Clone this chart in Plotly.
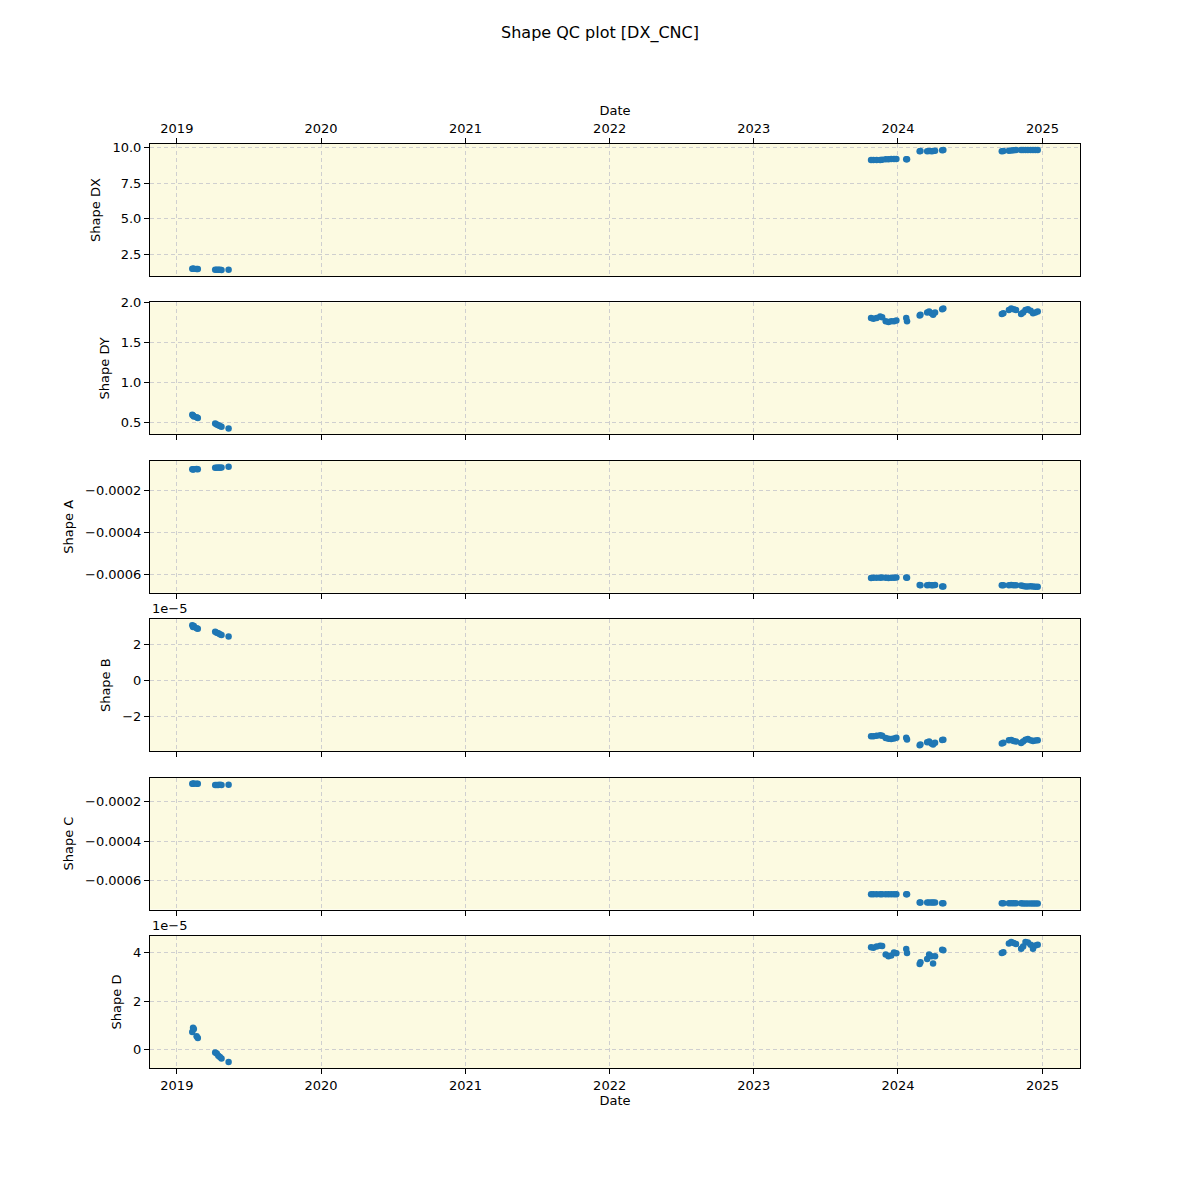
import pandas as pd
import plotly.graph_objects as go

dates = [
    "2019-02-09", "2019-02-11", "2019-02-13", "2019-02-20", "2019-02-23",
    "2019-04-08", "2019-04-12", "2019-04-16", "2019-04-20", "2019-04-24", "2019-05-12",
    "2023-10-25", "2023-10-31", "2023-11-08", "2023-11-17", "2023-11-22",
    "2023-12-01", "2023-12-08", "2023-12-15", "2023-12-22", "2023-12-28",
    "2024-01-22", "2024-01-24", "2024-02-25", "2024-02-27",
    "2024-03-15", "2024-03-20", "2024-03-26", "2024-03-30", "2024-04-04",
    "2024-04-22", "2024-04-25", "2024-09-20", "2024-09-24",
    "2024-10-08", "2024-10-14", "2024-10-20", "2024-10-26",
    "2024-11-08", "2024-11-13", "2024-11-19", "2024-11-25",
    "2024-12-02", "2024-12-08", "2024-12-14", "2024-12-20",
]

shape_dx = [
    1.47, 1.46, 1.46, 1.45, 1.45, 1.40, 1.39, 1.39, 1.40, 1.38, 1.40,
    9.12, 9.12, 9.12, 9.13, 9.14, 9.17, 9.18, 9.19, 9.19, 9.19,
    9.17, 9.17, 9.75, 9.76, 9.75, 9.76, 9.75, 9.76, 9.77,
    9.82, 9.83, 9.75, 9.76, 9.78, 9.80, 9.82, 9.83,
    9.83, 9.83, 9.83, 9.83, 9.83, 9.83, 9.83, 9.83,
]

shape_dy = [
    0.60, 0.59, 0.58, 0.57, 0.56, 0.49, 0.48, 0.47, 0.46, 0.45, 0.43,
    1.81, 1.80, 1.81, 1.83, 1.82, 1.77, 1.76, 1.77, 1.77, 1.78,
    1.81, 1.77, 1.84, 1.85, 1.88, 1.89, 1.87, 1.85, 1.88,
    1.92, 1.93, 1.86, 1.87, 1.91, 1.93, 1.92, 1.91,
    1.86, 1.88, 1.91, 1.92, 1.90, 1.87, 1.88, 1.89,
]

shape_a = [
    -0.000097, -0.000098, -0.000097, -0.000096, -0.000097,
    -0.000090, -0.000089, -0.000088, -0.000089, -0.000088, -0.000085,
    -0.000616, -0.000615, -0.000615, -0.000615, -0.000614,
    -0.000615, -0.000616, -0.000615, -0.000615, -0.000614,
    -0.000614, -0.000615, -0.000650, -0.000651,
    -0.000651, -0.000650, -0.000651, -0.000651, -0.000650,
    -0.000656, -0.000657, -0.000651, -0.000651,
    -0.000651, -0.000650, -0.000651, -0.000651,
    -0.000652, -0.000654, -0.000656, -0.000657,
    -0.000655, -0.000657, -0.000658, -0.000658,
]

shape_b = [
    3.05e-5, 2.95e-5, 3.00e-5, 2.88e-5, 2.85e-5,
    2.68e-5, 2.63e-5, 2.60e-5, 2.55e-5, 2.50e-5, 2.42e-5,
    -3.12e-5, -3.12e-5, -3.10e-5, -3.07e-5, -3.10e-5,
    -3.22e-5, -3.26e-5, -3.28e-5, -3.25e-5, -3.20e-5,
    -3.20e-5, -3.30e-5, -3.62e-5, -3.58e-5,
    -3.45e-5, -3.42e-5, -3.52e-5, -3.58e-5, -3.48e-5,
    -3.33e-5, -3.32e-5, -3.52e-5, -3.48e-5,
    -3.35e-5, -3.33e-5, -3.38e-5, -3.42e-5,
    -3.50e-5, -3.42e-5, -3.32e-5, -3.28e-5,
    -3.35e-5, -3.38e-5, -3.36e-5, -3.34e-5,
]

shape_c = [
    -0.000112, -0.000112, -0.000111, -0.000112, -0.000112,
    -0.000118, -0.000118, -0.000118, -0.000117, -0.000118, -0.000117,
    -0.000667, -0.000667, -0.000667, -0.000667, -0.000667,
    -0.000667, -0.000667, -0.000667, -0.000667, -0.000667,
    -0.000667, -0.000667, -0.000708, -0.000708,
    -0.000708, -0.000708, -0.000708, -0.000708, -0.000708,
    -0.000712, -0.000712, -0.000712, -0.000712,
    -0.000712, -0.000712, -0.000712, -0.000712,
    -0.000712, -0.000713, -0.000714, -0.000713,
    -0.000713, -0.000714, -0.000713, -0.000713,
]

shape_d = [
    0.73e-5, 0.90e-5, 0.85e-5, 0.55e-5, 0.48e-5,
    -0.12e-5, -0.16e-5, -0.25e-5, -0.30e-5, -0.37e-5, -0.51e-5,
    4.22e-5, 4.20e-5, 4.25e-5, 4.29e-5, 4.27e-5,
    3.92e-5, 3.85e-5, 3.88e-5, 4.01e-5, 3.98e-5,
    4.15e-5, 3.99e-5, 3.53e-5, 3.60e-5,
    3.74e-5, 3.92e-5, 3.85e-5, 3.55e-5, 3.85e-5,
    4.12e-5, 4.10e-5, 3.99e-5, 4.02e-5,
    4.38e-5, 4.44e-5, 4.40e-5, 4.36e-5,
    4.16e-5, 4.25e-5, 4.44e-5, 4.42e-5,
    4.33e-5, 4.16e-5, 4.30e-5, 4.33e-5,
]

labels = ["Shape DX", "Shape DY", "Shape A", "Shape B", "Shape C", "Shape D"]
title_text = "Shape QC plot [DX_CNC]"

# scale, tick step, tick format, offset text
panels = [
    (shape_dx, 1.0, 2.5, ".1f", None),
    (shape_dy, 1.0, 0.5, ".1f", None),
    (shape_a, 1.0, 0.0002, ".4f", None),
    (shape_b, 1e-5, 2, "d", "1e\u22125"),
    (shape_c, 1.0, 0.0002, ".4f", None),
    (shape_d, 1e-5, 2, "d", "1e\u22125"),
]

FONT = "DejaVu Sans"
BG = "#fcfae1"
GRID = "#cfcfcf"

x = pd.to_datetime(dates)
xmin, xmax = x.min(), x.max()
xpad = (xmax - xmin) * 0.05
xrange = [xmin - xpad, xmax + xpad]

W, H = 1200, 1200
# page body adds an 8px offset; compensate
mt, mb, ml, mr = 136, 140, 142, 128
plot_h = H - mt - mb
panel_h, period = 132, 158.4

fig = go.Figure()
layout = {}
for i, (vals, scale, dt, fmt, offset) in enumerate(panels):
    n = i + 1
    xs = "" if n == 1 else str(n)
    yv = [v / scale for v in vals]
    fig.add_trace(go.Scatter(
        x=x, y=yv, mode="markers",
        marker=dict(color="#1f77b4", size=6.5, line=dict(width=0)),
        xaxis="x" + xs, yaxis="y" + xs, showlegend=False,
    ))
    lo, hi = min(yv), max(yv)
    pad = (hi - lo) * 0.05
    top = 1 - (i * period) / plot_h
    bot = max(0.0, top - panel_h / plot_h)
    first, last = (n == 1), (n == len(panels))
    xa = dict(
        type="date", range=xrange, anchor="y" + xs,
        tick0="2019-01-01", dtick="M12", tickformat="%Y",
        showgrid=True, gridcolor=GRID, griddash="4px,3px", gridwidth=1,
        showline=True, linecolor="black", linewidth=1, mirror=True,
        ticks="outside", ticklen=5, tickcolor="black", tickwidth=1,
        showticklabels=first or last, zeroline=False,
        tickfont=dict(family=FONT, size=13, color="black"),
    )
    if first:
        xa["side"] = "top"
        xa["title"] = dict(text="Date", font=dict(family=FONT, size=13, color="black"), standoff=2)
    if last:
        xa["title"] = dict(text="Date", font=dict(family=FONT, size=13, color="black"), standoff=4)
    if n != 1:
        xa["matches"] = "x"
    ya = dict(
        domain=[bot, top], anchor="x" + xs, range=[lo - pad, hi + pad],
        dtick=dt, tickformat=fmt,
        showgrid=True, gridcolor=GRID, griddash="4px,3px", gridwidth=1,
        showline=True, linecolor="black", linewidth=1, mirror=True,
        ticks="outside", ticklen=5, tickcolor="black", tickwidth=1,
        zeroline=False,
        tickfont=dict(family=FONT, size=13, color="black"),
        title=dict(text=labels[i], font=dict(family=FONT, size=13, color="black"), standoff=8),
    )
    layout["xaxis" + xs] = xa
    layout["yaxis" + xs] = ya
    if offset:
        fig.add_annotation(
            text=offset, xref="x%s domain" % xs, yref="y%s domain" % xs,
            x=0, y=1, xanchor="left", yanchor="bottom", showarrow=False,
            font=dict(family=FONT, size=13, color="black"), yshift=1,
        )
    fig.add_shape(
        type="rect", xref="x%s domain" % xs, yref="y%s domain" % xs,
        x0=0, x1=1, y0=0, y1=1, fillcolor=BG, line=dict(width=0), layer="below",
    )

fig.update_layout(
    **layout,
    width=W, height=H,
    margin=dict(l=ml, r=mr, t=mt, b=mb),
    paper_bgcolor="white", plot_bgcolor="white",
    title=dict(text=title_text, x=592 / W, xref="container", y=1 - 24 / H,
               yref="container", xanchor="center", yanchor="middle",
               font=dict(family=FONT, size=16, color="black")),
    font=dict(family=FONT, size=13, color="black"),
)

fig.write_html("out.html")
